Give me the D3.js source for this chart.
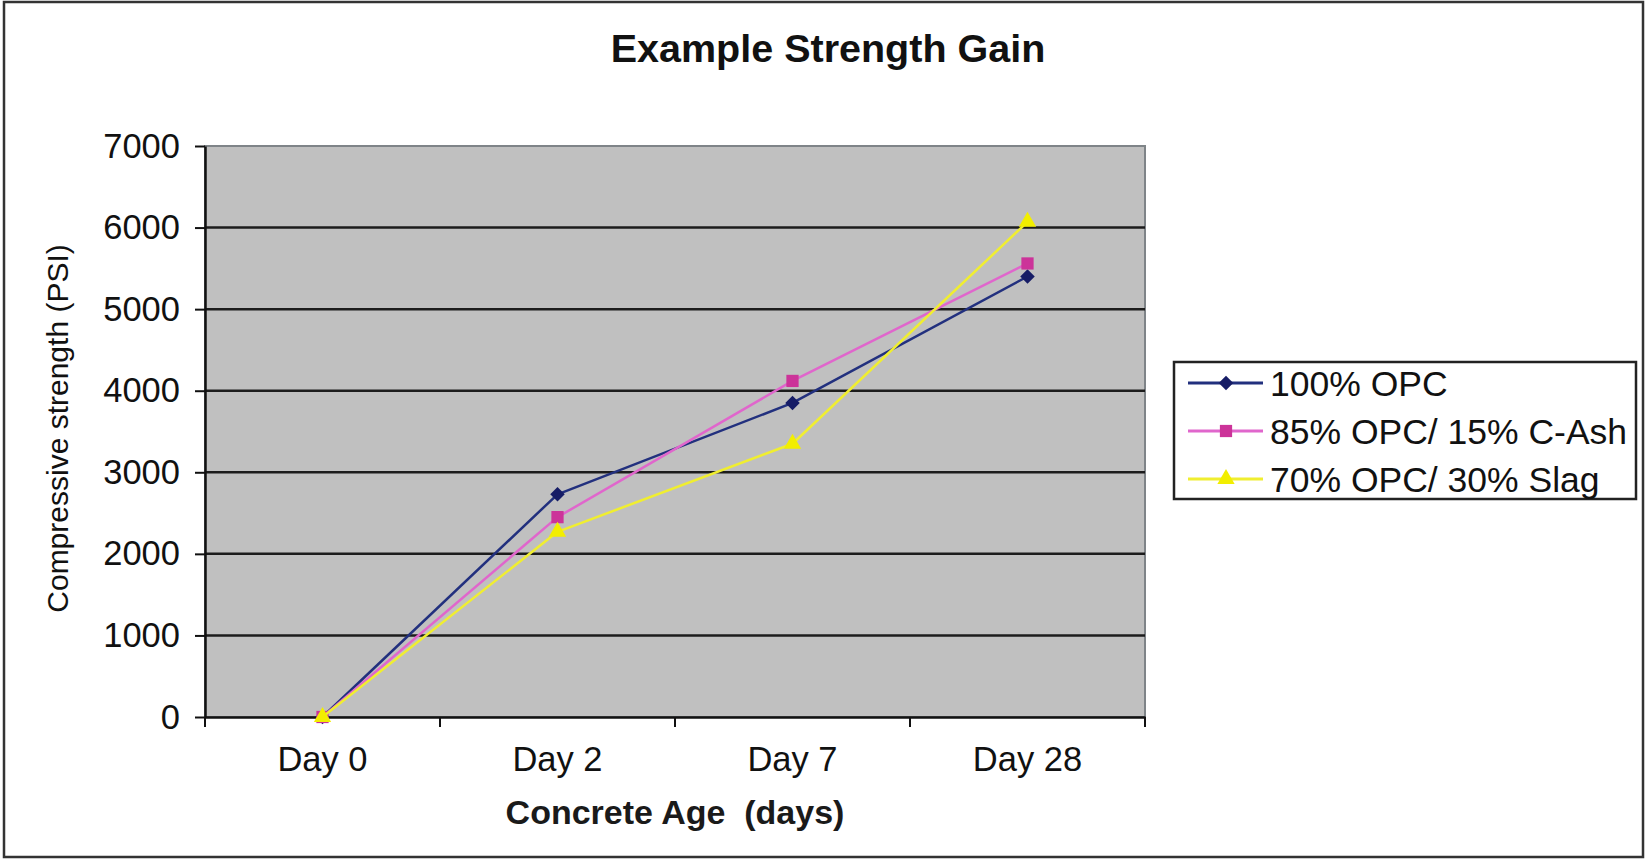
<!DOCTYPE html>
<html>
<head>
<meta charset="utf-8">
<title>Example Strength Gain</title>
<script src="https://cdn.jsdelivr.net/npm/d3@7"></script>
<style>
  html, body { margin: 0; padding: 0; background: #fff; }
  svg { display: block; font-family: "Liberation Sans", Arial, sans-serif; }
</style>
</head>
<body>
<svg id="chart" width="1647" height="860"></svg>
<script>
// Compressive strength (PSI) by concrete age for three mixes
const categories = ["Day 0", "Day 2", "Day 7", "Day 28"];
const seriesNames = ["100% OPC", "85% OPC/ 15% C-Ash", "70% OPC/ 30% Slag"];
const opc100 = [0, 2730, 3850, 5400];
const opc85Ash15 = [0, 2450, 4120, 5560];
const opc70Slag30 = [0, 2270, 3350, 6070];
const yTicks = [0, 1000, 2000, 3000, 4000, 5000, 6000, 7000];

const seriesValues = [opc100, opc85Ash15, opc70Slag30];
const seriesStyle = [
  { line: "#22307e", marker: "#161c66", symbol: "diamond", size: 105 },
  { line: "#e066cc", marker: "#cc3399", symbol: "square", size: 150 },
  { line: "#f0ee30", marker: "#f2ee00", symbol: "triangle", size: 130 }
];

const svg = d3.select("#chart");
const W = 1647, H = 860;
const plot = { left: 205, right: 1145, top: 146, bottom: 717 };

// outer frame
svg.append("rect")
  .attr("x", 4).attr("y", 2).attr("width", W - 8).attr("height", H - 5)
  .attr("fill", "#fff").attr("stroke", "#333").attr("stroke-width", 2.5);

const x = d3.scaleBand().domain(categories).range([plot.left, plot.right]);
const y = d3.scaleLinear().domain([0, 7000]).range([plot.bottom, plot.top]);

// plot background
svg.append("rect")
  .attr("x", plot.left).attr("y", plot.top)
  .attr("width", plot.right - plot.left).attr("height", plot.bottom - plot.top)
  .attr("fill", "#c0c0c0").attr("stroke", "#7f8488").attr("stroke-width", 2);

// horizontal gridlines
svg.append("g").selectAll("line")
  .data(yTicks.filter(t => t > 0 && t < 7000))
  .join("line")
  .attr("x1", plot.left).attr("x2", plot.right)
  .attr("y1", d => y(d)).attr("y2", d => y(d))
  .attr("stroke", "#1c1c1c").attr("stroke-width", 2.5);

// y axis
const yAxis = svg.append("g")
  .attr("transform", `translate(${plot.left},0)`)
  .call(d3.axisLeft(y).tickValues(yTicks).tickFormat(d3.format("d"))
    .tickSize(10).tickSizeOuter(0).tickPadding(15));
yAxis.select(".domain").attr("stroke", "#111").attr("stroke-width", 2.5);
yAxis.selectAll(".tick line").attr("stroke", "#111").attr("stroke-width", 2);
yAxis.selectAll(".tick text").attr("font-size", 34.5).attr("fill", "#111")
  .attr("font-family", "Liberation Sans, Arial, sans-serif");

// x axis (labels centred in each category, ticks on category boundaries)
const xAxis = svg.append("g")
  .attr("transform", `translate(0,${plot.bottom})`)
  .call(d3.axisBottom(x).tickSize(0).tickSizeOuter(0).tickPadding(30));
xAxis.select(".domain").attr("stroke", "#111").attr("stroke-width", 2.5);
xAxis.selectAll(".tick text").attr("font-size", 34.5).attr("fill", "#111")
  .attr("font-family", "Liberation Sans, Arial, sans-serif");
const boundaries = categories.map(c => x(c)).concat([x.range()[1]]);
xAxis.selectAll("line.bound")
  .data(boundaries)
  .join("line")
  .attr("class", "bound")
  .attr("x1", d => d).attr("x2", d => d)
  .attr("y1", 0).attr("y2", 10)
  .attr("stroke", "#111").attr("stroke-width", 2);

// series lines and markers
const line = d3.line()
  .x((d, i) => x(categories[i]) + x.bandwidth() / 2)
  .y(d => y(d));

const symbolFor = {
  diamond: d3.symbol().type(d3.symbolSquare),
  square: d3.symbol().type(d3.symbolSquare),
  triangle: d3.symbol().type(d3.symbolTriangle)
};

seriesValues.forEach((vals, si) => {
  const st = seriesStyle[si];
  const g = svg.append("g");
  g.append("path")
    .datum(vals)
    .attr("d", line)
    .attr("fill", "none")
    .attr("stroke", st.line)
    .attr("stroke-width", 2.5)
    .attr("stroke-linejoin", "round");
  g.selectAll("path.marker")
    .data(vals)
    .join("path")
    .attr("class", "marker")
    .attr("d", symbolFor[st.symbol].size(st.size)())
    .attr("transform", (d, i) => {
      const cx = x(categories[i]) + x.bandwidth() / 2;
      return `translate(${cx},${y(d)})` + (st.symbol === "diamond" ? " rotate(45)" : "");
    })
    .attr("fill", st.marker);
});

// titles
svg.append("text")
  .attr("x", 828).attr("y", 62)
  .attr("text-anchor", "middle")
  .attr("font-size", 39.5).attr("font-weight", "bold").attr("fill", "#111")
  .text("Example Strength Gain");

svg.append("text")
  .attr("x", (plot.left + plot.right) / 2).attr("y", 824)
  .attr("text-anchor", "middle")
  .attr("font-size", 34).attr("font-weight", "bold").attr("fill", "#1a1a1a")
  .attr("xml:space", "preserve")
  .text("Concrete Age  (days)");

svg.append("text")
  .attr("transform", `translate(68,${(plot.top + plot.bottom) / 2 - 3}) rotate(-90)`)
  .attr("text-anchor", "middle")
  .attr("font-size", 30).attr("fill", "#111")
  .text("Compressive strength (PSI)");

// legend
const legend = svg.append("g");
legend.append("rect")
  .attr("x", 1174).attr("y", 362).attr("width", 462).attr("height", 137)
  .attr("fill", "#fff").attr("stroke", "#222").attr("stroke-width", 2.5);

const legendRows = d3.scalePoint().domain(seriesNames).range([383, 479]);
seriesNames.forEach((name, si) => {
  const st = seriesStyle[si];
  const ry = legendRows(name);
  legend.append("line")
    .attr("x1", 1188).attr("x2", 1263).attr("y1", ry).attr("y2", ry)
    .attr("stroke", st.line).attr("stroke-width", 3);
  legend.append("path")
    .attr("d", symbolFor[st.symbol].size(st.size)())
    .attr("transform", `translate(1226,${ry})` + (st.symbol === "diamond" ? " rotate(45)" : ""))
    .attr("fill", st.marker);
  legend.append("text")
    .attr("x", 1270).attr("y", ry).attr("dy", "0.36em")
    .attr("font-size", 35.5).attr("fill", "#111")
    .text(name);
});
</script>
</body>
</html>
